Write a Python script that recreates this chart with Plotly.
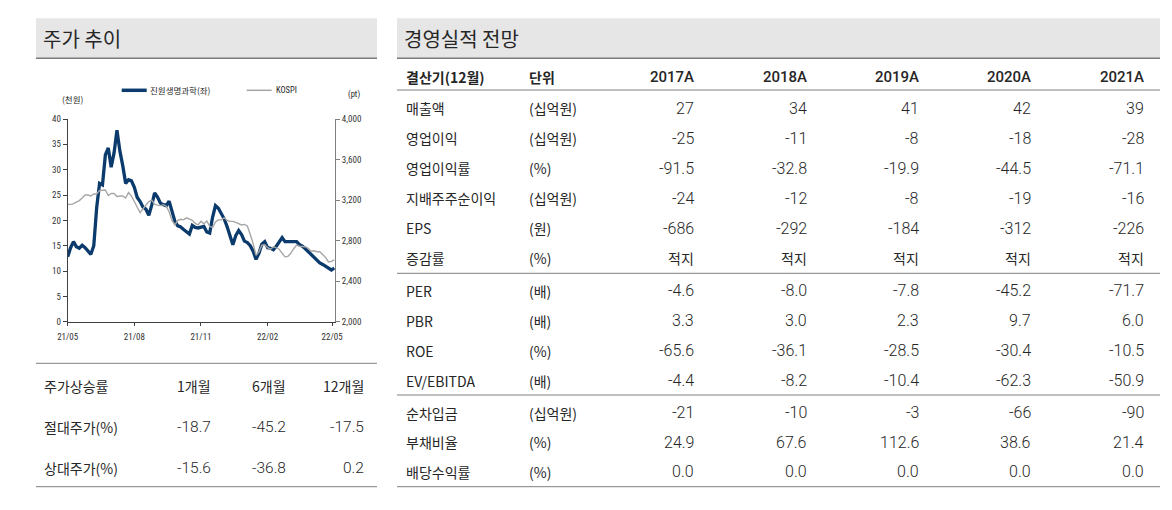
import plotly.graph_objects as go
import pandas as pd

W, H = 1172, 510

# ---------------- data ----------------
start_date = "2021-05-01"
step_days = 4
# 진원생명과학 주가 (천원), every 4 days
stock_price = [
    12.8, 14.6, 15.8, 14.8, 14.5, 15.1, 14.6, 13.9, 13.3, 15.0,
    22.5, 27.3, 27.0, 32.9, 34.3, 30.5, 33.3, 37.8, 33.7, 30.8,
    27.3, 28.0, 27.8, 26.5, 24.5, 23.7, 22.6, 22.2, 21.0, 23.0,
    25.4, 24.6, 23.4, 23.1, 22.9, 23.8, 21.5, 19.8, 18.9, 18.7,
    18.2, 17.8, 17.3, 19.0, 18.6, 18.5, 18.6, 18.8, 17.7, 17.5,
    20.6, 22.9, 22.4, 21.5, 20.3, 18.8, 16.7, 15.2, 17.0, 18.0,
    17.2, 15.9, 15.6, 15.0, 13.9, 12.3, 13.5, 15.3, 15.8, 14.6,
    14.5, 14.2, 14.9, 15.7, 16.6, 15.8, 15.8, 15.7, 15.8, 15.8,
    15.2, 14.9, 14.4, 13.8, 13.2, 12.6, 12.1, 11.6, 11.3, 10.9,
    10.6, 10.2, 10.6,
]
# KOSPI (pt), same dates
kospi = [
    3160, 3155, 3165, 3180, 3195, 3220, 3250, 3250, 3240, 3260,
    3260, 3295, 3300, 3300, 3245, 3265, 3265, 3235, 3240, 3240,
    3220, 3275, 3240, 3185, 3145, 3075, 3115, 3150, 3185, 3200,
    3160, 3150, 3145, 3155, 3140, 3085, 3000, 2955, 3000, 3010,
    3005, 3025, 3015, 3000, 2970, 2955, 2990, 2965, 2995, 2940,
    2930, 2985, 3005, 3005, 3025, 3000, 2990, 2990, 2980, 2965,
    2955, 2960, 2945, 2860, 2770, 2655, 2690, 2755, 2760, 2730,
    2715, 2740, 2725, 2715, 2675, 2640, 2645, 2675, 2720, 2755,
    2745, 2745, 2740, 2725, 2695, 2700, 2690, 2690, 2660, 2635,
    2590, 2595, 2610,
]
x_tick_dates = ["2021-05-01", "2021-08-01", "2021-11-01", "2022-02-01", "2022-05-01"]
x_tick_labels = ["21/05", "21/08", "21/11", "22/02", "22/05"]
series_names = ["진원생명과학(좌)", "KOSPI"]

# 주가상승률 table
ret_header = ["주가상승률", "1개월", "6개월", "12개월"]
ret_row_labels = ["절대주가(%)", "상대주가(%)"]
ret_absolute = [-18.7, -45.2, -17.5]
ret_relative = [-15.6, -36.8, 0.2]

# 경영실적 전망 table
fin_header = ["결산기(12월)", "단위"]
fin_years = ["2017A", "2018A", "2019A", "2020A", "2021A"]
fin_labels = ["매출액", "영업이익", "영업이익률", "지배주주순이익", "EPS", "증감률",
              "PER", "PBR", "ROE", "EV/EBITDA", "순차입금", "부채비율", "배당수익률"]
fin_units = ["(십억원)", "(십억원)", "(%)", "(십억원)", "(원)", "(%)",
             "(배)", "(배)", "(%)", "(배)", "(십억원)", "(%)", "(%)"]
sales = [27, 34, 41, 42, 39]
op_profit = [-25, -11, -8, -18, -28]
op_margin = [-91.5, -32.8, -19.9, -44.5, -71.1]
net_profit = [-24, -12, -8, -19, -16]
eps = [-686, -292, -184, -312, -226]
eps_growth = ["적지", "적지", "적지", "적지", "적지"]
per = [-4.6, -8.0, -7.8, -45.2, -71.7]
pbr = [3.3, 3.0, 2.3, 9.7, 6.0]
roe = [-65.6, -36.1, -28.5, -30.4, -10.5]
ev_ebitda = [-4.4, -8.2, -10.4, -62.3, -50.9]
net_debt = [-21, -10, -3, -66, -90]
debt_ratio = [24.9, 67.6, 112.6, 38.6, 21.4]
div_yield = [0.0, 0.0, 0.0, 0.0, 0.0]

fin_rows = [sales, op_profit, op_margin, net_profit, eps, eps_growth,
            per, pbr, roe, ev_ebitda, net_debt, debt_ratio, div_yield]
fin_decimals = [0, 0, 1, 0, 0, None, 1, 1, 1, 1, 0, 1, 1]

# ---------------- style / layout constants ----------------
KR = "Noto Sans CJK KR"
NUM = "Roboto, Noto Sans CJK KR"
NARROW = "Liberation Sans Narrow, Arial Narrow, Roboto Condensed, Roboto, sans-serif"
TXT = "#262626"
BLUE = "#0b3a6c"
GRAY = "#a6a6a6"
TITLE_BG = "#e6e6e6"
RULE = "#808080"
KR_SIZE = 14


def px(x):
    return x / W


def py(y):
    return 1 - y / H


dates = pd.date_range(start_date, periods=len(stock_price), freq=f"{step_days}D")

fig = go.Figure()
fig.add_trace(go.Scatter(x=dates, y=stock_price, mode="lines", name=series_names[0],
                         line=dict(color=BLUE, width=3.3), yaxis="y", showlegend=False))
fig.add_trace(go.Scatter(x=dates, y=kospi, mode="lines", name=series_names[1],
                         line=dict(color=GRAY, width=1.4), yaxis="y2", showlegend=False))

plot_left, plot_right = 67.7, 335.0
plot_top, plot_bottom = 119.0, 321.7
tickfont = dict(family=NARROW, size=9, color="#333333")

fig.update_layout(
    autosize=True,
    margin=dict(l=0, r=0, t=0, b=0, autoexpand=False),
    paper_bgcolor="white", plot_bgcolor="white",
    xaxis=dict(domain=[px(plot_left), px(plot_right)], type="date",
               range=["2021-05-01", "2022-05-05"],
               tickvals=x_tick_dates, ticktext=x_tick_labels,
               ticks="outside", ticklen=3, tickcolor="#404040", ticklabelstandoff=3,
               showline=True, linecolor="#404040", linewidth=1, automargin=False,
               showgrid=False, zeroline=False, tickfont=tickfont, anchor="y"),
    yaxis=dict(domain=[py(plot_bottom), py(plot_top)], range=[0, 40], dtick=5,
               ticks="outside", ticklen=4, tickcolor="#404040", automargin=False,
               showline=True, linecolor="#404040", linewidth=1,
               showgrid=False, zeroline=False, tickfont=tickfont),
    yaxis2=dict(overlaying="y", side="right", anchor="x", range=[2000, 4000], dtick=400,
                tickformat=",", ticks="outside", ticklen=4, tickcolor="#808080",
                showline=True, linecolor="#808080", linewidth=1, automargin=False,
                showgrid=False, zeroline=False, tickfont=tickfont),
)

shapes = []
ann = []


def hline(x0, x1, y, color=RULE, width=1):
    shapes.append(dict(type="line", xref="paper", yref="paper", x0=px(x0), x1=px(x1),
                       y0=py(y), y1=py(y), line=dict(color=color, width=width)))


def text(x, y, s, size, family, anchor="left", bold=False, color=TXT, weight=None):
    w = weight if weight is not None else (700 if bold else 400)
    ann.append(dict(x=px(x), y=py(y), xref="paper", yref="paper", text=s, showarrow=False,
                    xanchor=anchor, yanchor="middle", borderpad=0,
                    font=dict(size=size, family=family, color=color, weight=w)))


# title bars
for x0, x1, title in [(36, 377, "주가 추이"), (397, 1160, "경영실적 전망")]:
    shapes.append(dict(type="rect", xref="paper", yref="paper", x0=px(x0), x1=px(x1),
                       y0=py(58.3), y1=py(18.3), fillcolor=TITLE_BG, line=dict(width=0),
                       layer="below"))
    hline(x0, x1, 58.3, color="#7a7a7a", width=1.5)
    text(x0 + 6, 38.5, title, 20, KR)

# chart legend & unit labels
shapes.append(dict(type="line", xref="paper", yref="paper", x0=px(121.7), x1=px(146.7),
                   y0=py(90.3), y1=py(90.3), line=dict(color=BLUE, width=3.5)))
text(149, 90.3, series_names[0], 8.5, KR)
shapes.append(dict(type="line", xref="paper", yref="paper", x0=px(246.7), x1=px(271.7),
                   y0=py(90.3), y1=py(90.3), line=dict(color=GRAY, width=1.5)))
text(274.5, 90.3, series_names[1], 8.5, NARROW)
text(72.5, 99.5, "(천원)", 8.5, KR, anchor="center")
text(353.5, 94.3, "(pt)", 8.5, NARROW, anchor="center")

# 주가상승률 table
hline(36, 377, 363.3)
hline(36, 377, 486.7)
ret_cols = [211.7, 287.3, 365.0]
ret_y = [385.7, 427.3, 467.7]
text(42.7, ret_y[0], ret_header[0], KR_SIZE, KR)
for c, h in zip(ret_cols, ret_header[1:]):
    text(c, ret_y[0], h, KR_SIZE, KR, anchor="right")
for r, (lab, vals) in enumerate(zip(ret_row_labels, [ret_absolute, ret_relative])):
    text(42.7, ret_y[r + 1], lab, KR_SIZE, KR)
    for c, v in zip(ret_cols, vals):
        text(c, ret_y[r + 1], f"{v:.1f}", 15.5, NUM, anchor="right", weight=300)

# 경영실적 table
fin_label_x, fin_unit_x = 405, 528.3
fin_cols = [695.0, 807.7, 920.0, 1031.7, 1145.0]
fin_y = [108.3, 138.3, 168.3, 198.3, 228.3, 258.3,
         290.5, 320.7, 350.7, 380.7, 412.5, 442.3, 471.7]
text(fin_label_x, 77.3, fin_header[0], KR_SIZE, KR, bold=True)
text(fin_unit_x, 77.3, fin_header[1], KR_SIZE, KR, bold=True)
for c, yr in zip(fin_cols, fin_years):
    text(c, 77.3, yr, 15, NUM, anchor="right", weight=500)
hline(397, 1160, 90.0)
hline(397, 1160, 273.3)
hline(397, 1160, 395.0)
hline(397, 1160, 486.7)
for lab, unit, vals, dec, y in zip(fin_labels, fin_units, fin_rows, fin_decimals, fin_y):
    text(fin_label_x, y, lab, KR_SIZE, KR)
    text(fin_unit_x, y, unit, KR_SIZE, KR)
    for c, v in zip(fin_cols, vals):
        if dec is None:
            text(c, y, v, KR_SIZE, KR, anchor="right")
        else:
            text(c, y, f"{v:,.{dec}f}", 16, NUM, anchor="right", weight=300)

fig.update_layout(shapes=shapes, annotations=ann)
fig.write_html(
    "out.html",
    config={"displayModeBar": False, "responsive": True},
    default_width="100vw",
    default_height="100vh",
    post_script=(
        "document.documentElement.style.margin='0';"
        "document.body.style.margin='0';document.body.style.overflow='hidden';"
        "var gd=document.getElementById('{plot_id}');Plotly.Plots.resize(gd);"
    ),
)
